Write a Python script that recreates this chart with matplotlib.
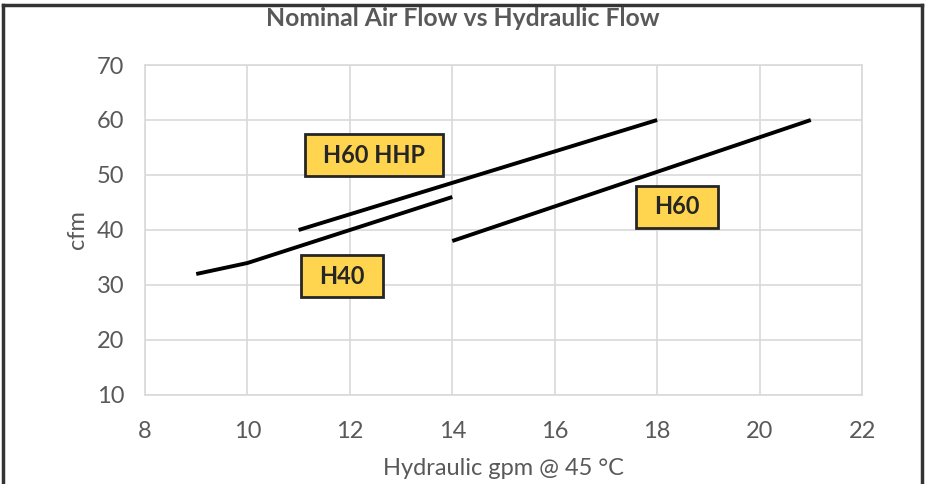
import matplotlib
matplotlib.use("Agg")
import matplotlib.pyplot as plt
from matplotlib.lines import Line2D
from matplotlib.path import Path

plt.rcParams['font.family'] = ['Lato', 'DejaVu Sans']

# series data (gpm, cfm)
h40_x = [9, 10, 14]
h40_y = [32, 34, 46]
hhp_x = [11, 18]
hhp_y = [40, 60]
h60_x = [14, 21]
h60_y = [38, 60]

labels = ["H60 HHP", "H40", "H60"]
label_x = [12.47, 11.85, 18.39]
label_y = [53.6, 31.6, 44.2]

x_ticks = [8, 10, 12, 14, 16, 18, 20, 22]
y_ticks = [10, 20, 30, 40, 50, 60, 70]

grey = "#595959"
grid_c = "#d9d9d9"


def wide_box(x0, y0, width, height, mutation_size):
    # wider horizontal padding than vertical, like the callout boxes
    px = 0.76 * mutation_size
    py = 0.40 * mutation_size
    x0, y0 = x0 - px, y0 - py
    x1, y1 = x0 + width + 2 * px, y0 + height + 2 * py
    return Path([(x0, y0), (x1, y0), (x1, y1), (x0, y1), (x0, y0)], closed=True)


fig = plt.figure(figsize=(9.26, 4.84), dpi=100)
ax = fig.add_axes([0.1566, 0.1839, 0.7743, 0.6818])

for xs, ys in [(h40_x, h40_y), (hhp_x, hhp_y), (h60_x, h60_y)]:
    ax.plot(xs, ys, color="black", lw=2.8, solid_capstyle="butt", zorder=3)

for t, x, y in zip(labels, label_x, label_y):
    ax.text(x, y, t, ha="center", va="center", fontsize=17, fontweight="bold",
            color="#262626", zorder=4,
            bbox=dict(boxstyle=wide_box, fc="#FFD54F", ec="#262626", lw=2))

ax.set_xlim(8, 22)
ax.set_ylim(10, 70)
ax.set_xticks(x_ticks)
ax.set_yticks(y_ticks)
ax.grid(True, color=grid_c, lw=1.2)
ax.set_axisbelow(True)
for s in ax.spines.values():
    s.set_color(grid_c)
    s.set_linewidth(1.2)
ax.tick_params(length=0, labelsize=17, labelcolor=grey)
ax.tick_params(axis="x", pad=19)
ax.tick_params(axis="y", pad=15)
ax.set_xlabel("Hydraulic gpm @ 45 °C", fontsize=17, color=grey, labelpad=11)
ax.set_ylabel("cfm", fontsize=17, color=grey, labelpad=6)

fig.text(0.5, 0.962, "Nominal Air Flow vs Hydraulic Flow", ha="center", va="center",
         fontsize=17.8, fontweight="bold", color=grey)

# outer frame (no bottom edge)
bc = "#333333"
fig.add_artist(Line2D([3/926, 3/926], [0, 1-5/484], color=bc, lw=2.5))
fig.add_artist(Line2D([3/926, 922/926], [1-5/484, 1-5/484], color=bc, lw=2.5))
fig.add_artist(Line2D([922/926, 922/926], [0, 1-5/484], color=bc, lw=2.5))

fig.savefig("out.png", dpi=100)
